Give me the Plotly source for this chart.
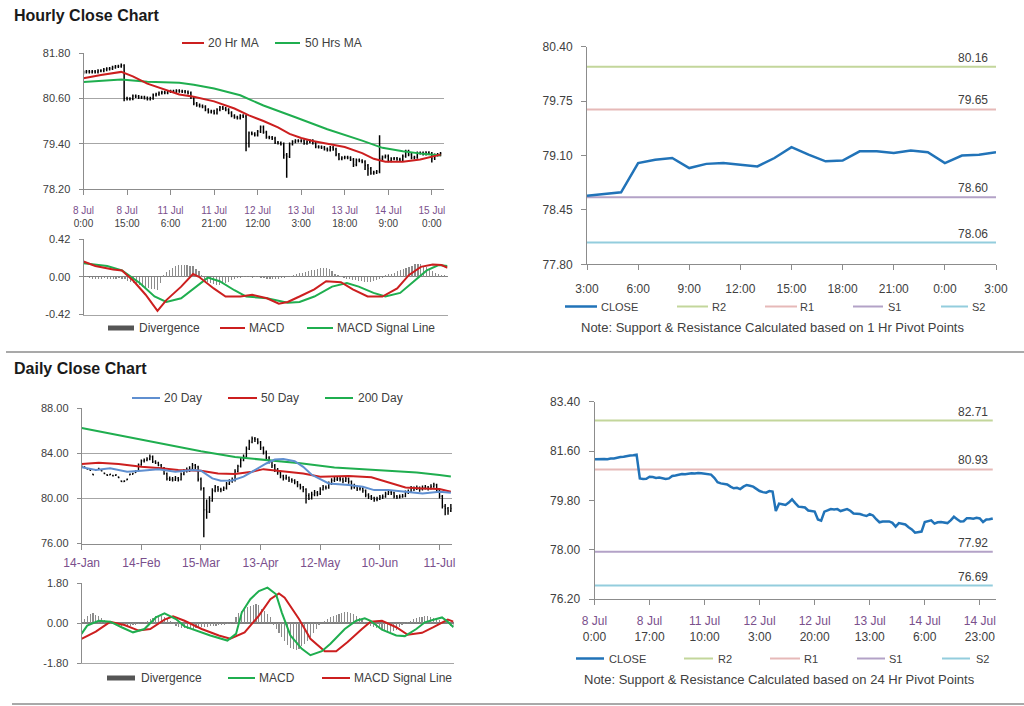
import plotly.graph_objects as go

W, H = 1024, 706

# ---------------------------------------------------------------- data
# Hourly series (8 Jul 0:00 .. 15 Jul 3:00, weekend removed)
hour_tick_idx = [0, 15, 30, 45, 60, 75, 90, 105, 120]
hour_tick_dates = ["8 Jul", "8 Jul", "11 Jul", "11 Jul", "12 Jul", "13 Jul", "13 Jul", "14 Jul", "15 Jul"]
hour_tick_times = ["0:00", "15:00", "6:00", "21:00", "12:00", "3:00", "18:00", "9:00", "0:00"]

hourly_open = [
    81.28, 81.30, 81.31, 81.30, 81.31, 81.30, 81.33, 81.33, 81.36, 81.38,
    81.39, 81.42, 81.44, 81.45, 81.47, 80.60, 80.58, 80.59, 80.66, 80.65,
    80.62, 80.63, 80.61, 80.58, 80.60, 80.69, 80.71, 80.74, 80.76, 80.75,
    80.78, 80.79, 80.78, 80.80, 80.79, 80.78, 80.77, 80.74, 80.62, 80.46,
    80.42, 80.40, 80.38, 80.30, 80.24, 80.26, 80.21, 80.30, 80.36, 80.33,
    80.30, 80.22, 80.14, 80.10, 80.08, 80.14, 80.12, 79.41, 79.68, 79.66,
    79.63, 79.72, 79.84, 79.70, 79.57, 79.56, 79.54, 79.43, 79.42, 79.39,
    79.10, 79.06, 79.39, 79.45, 79.48, 79.47, 79.48, 79.41, 79.45, 79.48,
    79.42, 79.32, 79.31, 79.30, 79.26, 79.23, 79.30, 79.25, 79.11, 79.00,
    79.03, 79.04, 79.03, 78.98, 78.84, 78.97, 78.95, 78.92, 78.82, 78.74,
    78.62, 78.64, 78.66, 79.01, 79.05, 79.07, 78.95, 79.00, 79.01, 78.99,
    78.97, 79.07, 79.20, 79.11, 79.03, 79.04, 79.15, 79.15, 79.13, 79.16,
    79.14, 79.01, 79.10, 79.11]
hourly_high = [
    81.34, 81.35, 81.35, 81.35, 81.35, 81.37, 81.37, 81.40, 81.42, 81.43,
    81.46, 81.48, 81.49, 81.52, 81.50, 80.64, 80.63, 80.70, 80.70, 80.69,
    80.67, 80.67, 80.65, 80.64, 80.73, 80.75, 80.78, 80.80, 80.80, 80.82,
    80.83, 80.83, 80.84, 80.84, 80.83, 80.82, 80.81, 80.78, 80.66, 80.50,
    80.46, 80.44, 80.42, 80.34, 80.30, 80.30, 80.34, 80.40, 80.40, 80.37,
    80.34, 80.26, 80.18, 80.14, 80.18, 80.18, 80.16, 79.72, 79.72, 79.70,
    79.76, 79.88, 79.88, 79.74, 79.61, 79.60, 79.58, 79.47, 79.46, 79.43,
    79.15, 79.43, 79.49, 79.52, 79.52, 79.52, 79.52, 79.49, 79.52, 79.52,
    79.46, 79.36, 79.35, 79.34, 79.30, 79.34, 79.34, 79.29, 79.15, 79.07,
    79.08, 79.08, 79.07, 79.02, 79.01, 79.01, 78.99, 78.96, 78.86, 78.78,
    78.68, 78.70, 79.62, 79.09, 79.11, 79.11, 79.04, 79.05, 79.05, 79.03,
    79.11, 79.24, 79.24, 79.15, 79.08, 79.19, 79.19, 79.19, 79.20, 79.20,
    79.18, 79.14, 79.15, 79.18]
hourly_low = [
    81.24, 81.26, 81.26, 81.26, 81.26, 81.26, 81.29, 81.29, 81.32, 81.34,
    81.35, 81.38, 81.40, 81.41, 80.52, 80.54, 80.54, 80.55, 80.61, 80.58,
    80.58, 80.57, 80.54, 80.54, 80.56, 80.65, 80.67, 80.70, 80.71, 80.71,
    80.74, 80.74, 80.74, 80.75, 80.74, 80.73, 80.70, 80.58, 80.42, 80.38,
    80.36, 80.34, 80.26, 80.20, 80.20, 80.17, 80.17, 80.26, 80.29, 80.26,
    80.18, 80.10, 80.06, 80.04, 80.04, 80.08, 79.20, 79.30, 79.62, 79.59,
    79.59, 79.68, 79.66, 79.53, 79.52, 79.50, 79.39, 79.38, 79.35, 79.00,
    78.50, 79.02, 79.35, 79.41, 79.43, 79.43, 79.37, 79.37, 79.41, 79.38,
    79.28, 79.27, 79.26, 79.22, 79.19, 79.19, 79.21, 79.07, 78.96, 78.96,
    78.99, 78.99, 78.94, 78.78, 78.80, 78.91, 78.88, 78.70, 78.55, 78.58,
    78.58, 78.60, 78.62, 78.97, 79.01, 78.91, 78.91, 78.96, 78.95, 78.93,
    78.93, 79.03, 79.07, 78.99, 78.99, 79.00, 79.11, 79.09, 79.09, 79.10,
    78.90, 78.97, 79.06, 79.07]
hourly_close = [
    81.30, 81.31, 81.30, 81.31, 81.30, 81.33, 81.33, 81.36, 81.38, 81.39,
    81.42, 81.44, 81.45, 81.47, 80.60, 80.58, 80.59, 80.66, 80.65, 80.62,
    80.63, 80.61, 80.58, 80.60, 80.69, 80.71, 80.74, 80.76, 80.75, 80.78,
    80.79, 80.78, 80.80, 80.79, 80.78, 80.77, 80.74, 80.62, 80.46, 80.42,
    80.40, 80.38, 80.30, 80.24, 80.26, 80.21, 80.30, 80.36, 80.33, 80.30,
    80.22, 80.14, 80.10, 80.08, 80.14, 80.12, 79.41, 79.68, 79.66, 79.63,
    79.72, 79.84, 79.70, 79.57, 79.56, 79.54, 79.43, 79.42, 79.39, 79.10,
    79.06, 79.39, 79.45, 79.48, 79.47, 79.48, 79.41, 79.45, 79.48, 79.42,
    79.32, 79.31, 79.30, 79.26, 79.23, 79.30, 79.25, 79.11, 79.00, 79.03,
    79.04, 79.03, 78.98, 78.84, 78.97, 78.95, 78.92, 78.82, 78.74, 78.62,
    78.64, 78.66, 79.01, 79.05, 79.07, 78.95, 79.00, 79.01, 78.99, 78.97,
    79.07, 79.20, 79.11, 79.03, 79.04, 79.15, 79.15, 79.13, 79.16, 79.14,
    79.01, 79.10, 79.11, 79.14]

ma20h_x = [0, 6, 13, 17, 22, 28, 33, 38, 45, 52, 57, 62, 67, 71, 75, 79, 85, 90, 96, 100, 104, 110, 116, 121, 123]
ma20h_y = [81.13, 81.22, 81.30, 81.18, 80.99, 80.83, 80.70, 80.64, 80.52, 80.33, 80.15, 80.00, 79.83, 79.66,
           79.55, 79.47, 79.38, 79.31, 79.15, 79.00, 78.92, 78.92, 78.98, 79.07, 79.11]
ma50h_x = [0, 7, 13, 22, 33, 38, 45, 54, 62, 73, 84, 96, 103, 110, 117, 123]
ma50h_y = [81.03, 81.07, 81.10, 81.04, 81.01, 80.96, 80.86, 80.68, 80.41, 80.10, 79.78, 79.48, 79.29, 79.20,
           79.13, 79.09]

hmacd_x = [0, 4, 10, 13, 17, 21, 25, 28, 33, 37, 39, 44, 48, 53, 57, 62, 66, 69, 73, 78, 82, 87, 91, 96,
           101, 106, 110, 114, 118, 121, 123]
hmacd_y = [0.17, 0.12, 0.08, 0.07, -0.05, -0.20, -0.38, -0.26, -0.11, 0.03, 0.00, -0.13, -0.22, -0.22,
           -0.20, -0.24, -0.30, -0.28, -0.22, -0.14, -0.05, -0.06, -0.14, -0.22, -0.22, -0.13, 0.02, 0.11,
           0.135, 0.13, 0.10]
hsig_x = [0, 8, 13, 19, 24, 28, 33, 38, 42, 46, 51, 55, 62, 69, 73, 78, 84, 89, 93, 98, 102, 107, 111, 116,
          120, 123]
hsig_y = [0.15, 0.12, 0.07, -0.07, -0.22, -0.28, -0.24, -0.11, -0.01, -0.05, -0.15, -0.22, -0.24, -0.29,
          -0.28, -0.22, -0.11, -0.07, -0.11, -0.18, -0.22, -0.18, -0.07, 0.07, 0.13, 0.12]
hourly_div = [
    0.02, 0.01, -0.01, -0.02, -0.02, -0.025, -0.02, -0.015, -0.02, -0.025,
    -0.02, -0.02, -0.015, -0.02, -0.03, -0.045, -0.06, -0.07, -0.085, -0.095,
    -0.11, -0.12, -0.13, -0.135, -0.14, -0.146, -0.07, 0.02, 0.055, 0.08,
    0.10, 0.115, 0.128, 0.132, 0.135, 0.133, 0.125, 0.115, 0.09, 0.06,
    0.02, -0.02, -0.055, -0.07, -0.084, -0.09, -0.09, -0.085, -0.07, -0.055,
    -0.04, -0.026, -0.015, -0.01, 0.005, 0.01, 0.005, -0.01, 0.01, 0.005,
    -0.01, -0.015, -0.02, -0.02, -0.025, -0.02, -0.02, -0.015, -0.01, 0.0,
    0.01, 0.02, 0.03, 0.04, 0.047, 0.055, 0.065, 0.073, 0.08, 0.09,
    0.10, 0.10, 0.095, 0.084, 0.06, 0.036, 0.02, 0.01, -0.01, -0.02,
    -0.026, -0.035, -0.04, -0.047, -0.05, -0.055, -0.062, -0.06, -0.045, -0.036,
    -0.02, -0.01, 0.015, 0.026, 0.035, 0.047, 0.06, 0.073, 0.085, 0.10,
    0.11, 0.125, 0.142, 0.146, 0.14, 0.125, 0.11, 0.08, 0.062, 0.04,
    0.03, 0.02, 0.015, 0.01]

# 1 Hr pivot panel: last 25 hourly closes (14 Jul 3:00 .. 15 Jul 3:00)
pivot1h_start = 99
pivot1h_ticks = [0, 3, 6, 9, 12, 15, 18, 21, 24]
pivot1h_labels = ["3:00", "6:00", "9:00", "12:00", "15:00", "18:00", "21:00", "0:00", "3:00"]
pivot1h_levels = {"R2": 80.16, "R1": 79.65, "S1": 78.60, "S2": 78.06}

# 24 Hr pivot panel ticks
pivot24_ticks = [0, 17, 34, 51, 68, 85, 102, 119]
pivot24_dates = ["8 Jul", "8 Jul", "11 Jul", "12 Jul", "12 Jul", "13 Jul", "14 Jul", "14 Jul"]
pivot24_times = ["0:00", "17:00", "10:00", "3:00", "20:00", "13:00", "6:00", "23:00"]
pivot24_levels = {"R2": 82.71, "R1": 80.93, "S1": 77.92, "S2": 76.69}

# Daily series (14 Jan .. 15 Jul, weekdays)
day_tick_idx = [0, 21, 42, 63, 84, 105, 126]
day_tick_labels = ["14-Jan", "14-Feb", "15-Mar", "13-Apr", "12-May", "10-Jun", "11-Jul"]

daily_open = [
    82.80, 82.80, 82.65, 82.55, 82.15, 82.50, 82.60, 82.50, 82.25, 82.10,
    82.10, 82.05, 82.05, 81.90, 81.55, 81.50, 81.65, 82.10, 82.15, 82.30,
    82.45, 83.00, 83.35, 83.40, 83.50, 83.70, 83.25, 83.15, 82.95, 82.70,
    82.20, 81.75, 81.70, 81.65, 81.80, 81.65, 82.15, 82.40, 82.50, 82.60,
    82.95, 82.80, 81.70, 80.90, 79.00, 78.80, 79.80, 80.70, 81.00, 80.80,
    80.75, 80.90, 81.30, 81.55, 81.60, 82.40, 82.85, 83.40, 83.70, 84.40,
    85.00, 85.30, 85.25, 85.00, 84.50, 84.10, 83.60, 83.30, 82.90, 82.55,
    82.30, 82.00, 81.80, 81.85, 81.65, 81.60, 81.45, 81.20, 81.00, 80.80,
    80.25, 80.00, 80.35, 80.50, 80.40, 80.80, 81.00, 80.95, 81.30, 81.60,
    81.70, 81.75, 81.70, 81.55, 81.75, 81.50, 81.00, 81.05, 80.85, 80.90,
    80.70, 80.30, 80.15, 80.05, 79.90, 79.95, 80.10, 80.15, 80.40, 80.55,
    80.50, 80.20, 80.10, 80.15, 80.20, 80.55, 80.60, 80.90, 80.85, 80.95,
    80.80, 80.95, 81.00, 80.90, 81.05, 81.20, 80.70, 80.20, 79.30, 79.10,
    78.90]
daily_high = [
    82.92, 82.85, 82.70, 82.60, 82.20, 82.62, 82.72, 82.55, 82.30, 82.15,
    82.20, 82.10, 82.15, 81.95, 81.60, 81.62, 81.76, 82.22, 82.28, 82.50,
    83.10, 83.45, 83.55, 83.65, 83.90, 83.80, 83.40, 83.25, 83.05, 82.80,
    82.30, 81.95, 81.90, 82.00, 81.90, 82.30, 82.60, 82.75, 82.85, 83.15,
    83.05, 82.90, 81.85, 81.00, 79.90, 80.20, 80.90, 81.20, 81.10, 80.95,
    81.05, 81.45, 81.70, 81.85, 82.60, 83.00, 83.60, 83.90, 84.60, 85.20,
    85.50, 85.45, 85.35, 85.10, 84.60, 84.25, 83.75, 83.40, 83.05, 82.70,
    82.45, 82.10, 82.10, 81.95, 81.80, 81.70, 81.55, 81.30, 81.10, 80.90,
    80.45, 80.60, 80.75, 80.65, 81.00, 81.20, 81.15, 81.50, 81.80, 81.90,
    81.95, 81.90, 81.85, 82.00, 81.85, 81.60, 81.30, 81.15, 81.10, 81.00,
    80.80, 80.45, 80.30, 80.15, 80.15, 80.30, 80.35, 80.60, 80.75, 80.65,
    80.60, 80.30, 80.35, 80.40, 80.70, 80.80, 81.10, 81.05, 81.15, 81.05,
    81.15, 81.20, 81.10, 81.25, 81.40, 81.30, 80.80, 80.30, 79.50, 79.25,
    79.50]
daily_low = [
    82.76, 82.70, 82.55, 82.45, 82.05, 82.48, 82.58, 82.40, 82.15, 82.00,
    82.05, 81.95, 82.00, 81.80, 81.45, 81.46, 81.62, 82.06, 82.12, 82.25,
    82.40, 82.90, 83.20, 83.30, 83.40, 83.15, 83.05, 82.85, 82.60, 82.10,
    81.60, 81.55, 81.50, 81.55, 81.50, 81.60, 82.05, 82.30, 82.35, 82.50,
    82.60, 81.50, 80.70, 76.55, 78.20, 78.70, 79.70, 80.55, 80.60, 80.55,
    80.65, 80.80, 81.20, 81.40, 81.50, 82.30, 82.75, 83.30, 83.60, 84.30,
    84.90, 85.00, 84.80, 84.30, 83.90, 83.45, 83.10, 82.70, 82.35, 82.10,
    81.80, 81.60, 81.65, 81.45, 81.40, 81.25, 81.00, 80.80, 80.55, 79.55,
    79.85, 79.90, 80.20, 80.20, 80.30, 80.70, 80.80, 80.85, 81.20, 81.45,
    81.55, 81.50, 81.35, 81.45, 81.30, 80.80, 80.85, 80.65, 80.70, 80.50,
    80.10, 79.95, 79.85, 79.70, 79.75, 79.85, 79.95, 80.05, 80.30, 80.30,
    80.00, 79.95, 80.00, 80.05, 80.10, 80.40, 80.50, 80.65, 80.75, 80.60,
    80.70, 80.80, 80.70, 80.80, 80.95, 80.55, 80.00, 79.10, 78.50, 78.55,
    78.80]
daily_close = [
    82.85, 82.75, 82.60, 82.50, 82.10, 82.55, 82.65, 82.45, 82.20, 82.05,
    82.15, 82.00, 82.10, 81.85, 81.50, 81.55, 81.70, 82.15, 82.20, 82.45,
    83.00, 83.35, 83.40, 83.50, 83.70, 83.25, 83.15, 82.95, 82.70, 82.20,
    81.75, 81.70, 81.65, 81.80, 81.65, 82.15, 82.40, 82.50, 82.60, 82.95,
    82.80, 81.70, 80.90, 79.00, 78.80, 79.80, 80.70, 81.00, 80.80, 80.75,
    80.90, 81.30, 81.55, 81.60, 82.40, 82.85, 83.40, 83.70, 84.40, 85.00,
    85.30, 85.25, 85.00, 84.50, 84.10, 83.60, 83.30, 82.90, 82.55, 82.30,
    82.00, 81.80, 81.85, 81.65, 81.60, 81.45, 81.20, 81.00, 80.80, 80.25,
    80.00, 80.35, 80.50, 80.40, 80.80, 81.00, 80.95, 81.30, 81.60, 81.70,
    81.75, 81.70, 81.55, 81.75, 81.50, 81.00, 81.05, 80.85, 80.90, 80.70,
    80.30, 80.15, 80.05, 79.90, 79.95, 80.10, 80.15, 80.40, 80.55, 80.50,
    80.20, 80.10, 80.15, 80.20, 80.55, 80.60, 80.90, 80.85, 80.95, 80.80,
    80.95, 81.00, 80.90, 81.05, 81.20, 80.70, 80.20, 79.30, 79.10, 78.90,
    79.10]

d20_x = [0, 5, 10, 16, 21, 27, 33, 39, 42, 46, 49, 53, 57, 62, 65, 68, 71, 75, 78, 81, 87, 94, 99, 103,
         108, 114, 120, 126, 130]
d20_y = [82.76, 82.52, 82.67, 82.37, 82.46, 82.58, 82.37, 82.52, 82.46, 81.78, 81.57, 81.60, 81.93, 82.67,
         83.10, 83.45, 83.50, 83.30, 82.80, 82.10, 81.33, 81.19, 81.04, 80.74, 80.74, 80.59, 80.44, 80.59,
         80.50]
d50_x = [0, 6, 13, 21, 28, 34, 42, 48, 54, 60, 64, 70, 78, 84, 94, 102, 109, 114, 120, 126, 130]
d50_y = [83.05, 83.17, 83.05, 82.81, 82.67, 82.52, 82.46, 82.22, 82.16, 82.37, 82.60, 82.46, 82.22, 81.93,
         81.99, 81.87, 81.33, 80.98, 80.89, 80.83, 80.59]
d200_x = [0, 21, 42, 54, 63, 77, 89, 105, 118, 126, 130]
d200_y = [86.25, 85.19, 84.18, 83.67, 83.45, 83.12, 82.75, 82.50, 82.30, 82.07, 81.95]

dmacd_x = [0, 2, 6, 10, 14, 18, 22, 26, 29, 33, 36, 41, 45, 51, 54, 56, 59, 62, 65, 68, 70, 73, 77, 80,
           84, 87, 92, 96, 99, 101, 105, 110, 113, 117, 120, 123, 126, 128, 130]
dmacd_y = [-0.49, -0.12, 0.10, 0.06, -0.19, -0.42, -0.27, 0.25, 0.43, 0.18, -0.15, -0.39, -0.56, -0.79,
           -0.49, 0.47, 1.07, 1.44, 1.59, 1.29, 0.47, -0.56, -1.16, -1.45, -1.27, -0.93, -0.27, 0.10,
           0.21, 0.10, -0.30, -0.56, -0.59, -0.27, 0.03, 0.15, 0.25, 0.06, -0.19]
dsig_x = [0, 5, 10, 15, 20, 24, 29, 32, 36, 42, 48, 52, 57, 62, 66, 69, 71, 76, 80, 85, 89, 93, 98, 101,
          105, 110, 114, 119, 123, 128, 130]
dsig_y = [-0.71, -0.39, 0.05, -0.09, -0.34, -0.27, 0.15, 0.30, 0.10, -0.27, -0.56, -0.71, -0.42, 0.33,
          1.07, 1.33, 1.14, 0.18, -0.71, -1.27, -1.27, -0.86, -0.27, 0.06, 0.10, -0.19, -0.53, -0.44,
          -0.19, 0.15, 0.06]
daily_div = [
    0.10, 0.20, 0.30, 0.40, 0.44, 0.38, 0.30, 0.22, 0.15, 0.08,
    0.06, 0.02, -0.05, -0.09, -0.12, -0.15, -0.14, -0.12, -0.10, -0.08,
    -0.05, -0.02, 0.05, 0.10, 0.18, 0.24, 0.30, 0.33, 0.33, 0.25,
    0.18, 0.08, -0.05, -0.12, -0.18, -0.22, -0.24, -0.26, -0.27, -0.26,
    -0.24, -0.22, -0.20, -0.18, -0.16, -0.15, -0.13, -0.12, -0.10, -0.09,
    -0.07, -0.05, -0.03, 0.05, 0.25, 0.45, 0.55, 0.65, 0.72, 0.77,
    0.81, 0.84, 0.80, 0.65, 0.55, 0.40, 0.25, -0.10, -0.27, -0.45,
    -0.64, -0.82, -1.01, -1.12, -1.19, -1.20, -1.16, -1.05, -0.93, -0.80,
    -0.64, -0.45, -0.27, -0.09, 0.02, 0.10, 0.18, 0.25, 0.30, 0.36,
    0.40, 0.45, 0.50, 0.49, 0.47, 0.40, 0.30, 0.22, 0.15, 0.05,
    -0.08, -0.12, -0.20, -0.24, -0.27, -0.33, -0.37, -0.40, -0.41, -0.38,
    -0.30, -0.19, -0.10, -0.03, 0.04, 0.10, 0.17, 0.22, 0.25, 0.28,
    0.30, 0.30, 0.27, 0.23, 0.18, 0.12, 0.06, 0.02, -0.05, -0.12,
    -0.20]

# ---------------------------------------------------------------- style
FONT = "Liberation Sans, Arial, sans-serif"
TXT = "#404040"
DATE_C = "#7a4f8c"
GRID = "#a6a6a6"
AXIS = "#8c8c8c"
RED = "#cc1f1f"
GREEN = "#1fae4f"
BLUE20 = "#5f8fd0"
CLOSE_C = "#2173b8"
DIV_C = "#8c8c8c"
PIV_C = {"R2": "#c3d69b", "R1": "#e6b9b8", "S1": "#b3a2c7", "S2": "#93cddd"}


def dom_x(a, b):
    return [a / W, b / W]


def dom_y(top, bottom):
    return [1 - bottom / H, 1 - top / H]


hour_idx = list(range(len(hourly_close)))
day_idx = list(range(len(daily_close)))
piv1_close = hourly_close[pivot1h_start:]
piv1_idx = list(range(len(piv1_close)))

fig = go.Figure()

# --- top-left: hourly bars + MAs
fig.add_trace(go.Ohlc(x=hour_idx, open=hourly_open, high=hourly_high, low=hourly_low, close=hourly_close,
                      increasing=dict(line=dict(color="black", width=1.5)),
                      decreasing=dict(line=dict(color="black", width=1.5)),
                      tickwidth=0.3, xaxis="x", yaxis="y", showlegend=False, hoverinfo="skip"))
fig.add_trace(go.Scatter(x=ma50h_x, y=ma50h_y, mode="lines", line=dict(color=GREEN, width=2),
                         xaxis="x", yaxis="y", showlegend=False))
fig.add_trace(go.Scatter(x=ma20h_x, y=ma20h_y, mode="lines", line=dict(color=RED, width=2),
                         xaxis="x", yaxis="y", showlegend=False))

# --- hourly MACD
fig.add_trace(go.Bar(x=hour_idx, y=hourly_div, width=0.4, marker=dict(color=DIV_C, line=dict(width=0)),
                     xaxis="x2", yaxis="y2", showlegend=False))
fig.add_trace(go.Scatter(x=hsig_x, y=hsig_y, mode="lines", line=dict(color=GREEN, width=2),
                         xaxis="x2", yaxis="y2", showlegend=False))
fig.add_trace(go.Scatter(x=hmacd_x, y=hmacd_y, mode="lines", line=dict(color=RED, width=2),
                         xaxis="x2", yaxis="y2", showlegend=False))

# --- top-right: 1 Hr pivots
for k in ["R2", "R1", "S1", "S2"]:
    fig.add_trace(go.Scatter(x=[piv1_idx[0], piv1_idx[-1]], y=[pivot1h_levels[k]] * 2, mode="lines",
                             line=dict(color=PIV_C[k], width=2), xaxis="x3", yaxis="y3", showlegend=False))
fig.add_trace(go.Scatter(x=piv1_idx, y=piv1_close, mode="lines", line=dict(color=CLOSE_C, width=2.5),
                         xaxis="x3", yaxis="y3", showlegend=False))

# --- bottom-left: daily bars + MAs
fig.add_trace(go.Ohlc(x=day_idx, open=daily_open, high=daily_high, low=daily_low, close=daily_close,
                      increasing=dict(line=dict(color="black", width=1.4)),
                      decreasing=dict(line=dict(color="black", width=1.4)),
                      tickwidth=0.3, xaxis="x4", yaxis="y4", showlegend=False, hoverinfo="skip"))
fig.add_trace(go.Scatter(x=d200_x, y=d200_y, mode="lines", line=dict(color=GREEN, width=2),
                         xaxis="x4", yaxis="y4", showlegend=False))
fig.add_trace(go.Scatter(x=d50_x, y=d50_y, mode="lines", line=dict(color=RED, width=2),
                         xaxis="x4", yaxis="y4", showlegend=False))
fig.add_trace(go.Scatter(x=d20_x, y=d20_y, mode="lines", line=dict(color=BLUE20, width=2),
                         xaxis="x4", yaxis="y4", showlegend=False))

# --- daily MACD
fig.add_trace(go.Bar(x=day_idx, y=daily_div, width=0.4, marker=dict(color=DIV_C, line=dict(width=0)),
                     xaxis="x5", yaxis="y5", showlegend=False))
fig.add_trace(go.Scatter(x=dsig_x, y=dsig_y, mode="lines", line=dict(color=RED, width=2),
                         xaxis="x5", yaxis="y5", showlegend=False))
fig.add_trace(go.Scatter(x=dmacd_x, y=dmacd_y, mode="lines", line=dict(color=GREEN, width=2),
                         xaxis="x5", yaxis="y5", showlegend=False))

# --- bottom-right: 24 Hr pivots
for k in ["R2", "R1", "S1", "S2"]:
    fig.add_trace(go.Scatter(x=[hour_idx[0], hour_idx[-1]], y=[pivot24_levels[k]] * 2, mode="lines",
                             line=dict(color=PIV_C[k], width=2), xaxis="x6", yaxis="y6", showlegend=False))
fig.add_trace(go.Scatter(x=hour_idx, y=hourly_close, mode="lines", line=dict(color=CLOSE_C, width=2.5),
                         xaxis="x6", yaxis="y6", showlegend=False))


def two_line(d, t):
    return f'<span style="color:{DATE_C}">{d}</span><br>{t}'


def base_axis(**kw):
    a = dict(showgrid=False, zeroline=False, showline=True, linecolor=AXIS, linewidth=1,
             tickfont=dict(size=11, color=TXT, family=FONT), fixedrange=True, tickmode="array",
             automargin=False)
    a.update(kw)
    return a


def yvals(vals):
    return dict(tickvals=vals, ticktext=[f"{v:.2f}" for v in vals])


lay = dict(
    width=W, height=H, autosize=False,
    margin=dict(l=0, r=0, t=0, b=0, pad=0, autoexpand=False),
    paper_bgcolor="white", plot_bgcolor="white",
    font=dict(family=FONT, color=TXT), showlegend=False, hovermode=False, bargap=0,
)

# top-left price
lay["xaxis"] = base_axis(domain=dom_x(83.5, 444.3), range=[0, 124.3], anchor="y",
                         tickvals=hour_tick_idx,
                         ticktext=[two_line(d, t) for d, t in zip(hour_tick_dates, hour_tick_times)],
                         ticks="outside", ticklen=5, tickcolor=AXIS, tickfont=dict(size=10, color=TXT, family=FONT),
                         ticklabelstandoff=7, rangeslider=dict(visible=False))
lay["yaxis"] = base_axis(domain=dom_y(53, 189), range=[78.2, 81.8], anchor="x",
                         showgrid=True, gridcolor=GRID, gridwidth=1.3, ticks="outside", ticklen=4,
                         tickcolor=AXIS, ticklabelstandoff=6, **yvals([78.2, 79.4, 80.6, 81.8]))
# hourly MACD
lay["xaxis2"] = base_axis(domain=dom_x(83.5, 447.5), range=[0, 123], anchor="y2", showticklabels=False,
                          tickvals=[], linecolor=GRID, linewidth=1.3)
lay["yaxis2"] = base_axis(domain=dom_y(239, 314.5), range=[-0.42, 0.42], anchor="x2",
                          showgrid=True, gridcolor=GRID, gridwidth=1.3, zeroline=True, zerolinecolor="#7f7f7f",
                          zerolinewidth=1.3, ticks="outside", ticklen=4, tickcolor=AXIS, ticklabelstandoff=6,
                          **yvals([-0.42, 0.0, 0.42]))
# top-right
lay["xaxis3"] = base_axis(domain=dom_x(587, 996), range=[0, 24], anchor="y3", tickvals=pivot1h_ticks,
                          ticktext=pivot1h_labels, ticks="outside", ticklen=5, tickcolor=AXIS,
                          tickfont=dict(size=12, color=TXT, family=FONT), ticklabelstandoff=8)
lay["yaxis3"] = base_axis(domain=dom_y(46.7, 264.3), range=[77.8, 80.4], anchor="x3", ticks="outside",
                          ticklen=5, tickcolor=AXIS, tickfont=dict(size=12, color=TXT, family=FONT),
                          ticklabelstandoff=6, **yvals([77.8, 78.45, 79.1, 79.75, 80.4]))
# daily price
lay["xaxis4"] = base_axis(domain=dom_x(81.7, 452), range=[0, 130.4], anchor="y4", tickvals=day_tick_idx,
                          ticktext=[f'<span style="color:{DATE_C}">{t}</span>' for t in day_tick_labels],
                          ticks="outside", ticklen=5, tickcolor=AXIS,
                          tickfont=dict(size=12, color=TXT, family=FONT), ticklabelstandoff=3,
                          rangeslider=dict(visible=False))
lay["yaxis4"] = base_axis(domain=dom_y(408.3, 543.5), range=[76, 88], anchor="x4", showgrid=True,
                          gridcolor=GRID, gridwidth=1.3, ticks="outside", ticklen=4, tickcolor=AXIS,
                          ticklabelstandoff=6, **yvals([76, 80, 84, 88]))
# daily MACD
lay["xaxis5"] = base_axis(domain=dom_x(81.5, 453.5), range=[0, 130], anchor="y5", showticklabels=False,
                          tickvals=[], linecolor=GRID, linewidth=1.3)
lay["yaxis5"] = base_axis(domain=dom_y(583, 663), range=[-1.8, 1.8], anchor="x5", showgrid=True,
                          gridcolor=GRID, gridwidth=1.3, zeroline=True, zerolinecolor="#7f7f7f",
                          zerolinewidth=1.3, ticks="outside", ticklen=4, tickcolor=AXIS, ticklabelstandoff=6,
                          **yvals([-1.8, 0.0, 1.8]))
# bottom-right
lay["xaxis6"] = base_axis(domain=dom_x(594.5, 996), range=[0, 124], anchor="y6", tickvals=pivot24_ticks,
                          ticktext=[two_line(d, t) for d, t in zip(pivot24_dates, pivot24_times)],
                          ticks="outside", ticklen=5, tickcolor=AXIS,
                          tickfont=dict(size=12, color=TXT, family=FONT), ticklabelstandoff=6)
lay["yaxis6"] = base_axis(domain=dom_y(401.7, 599), range=[76.2, 83.4], anchor="x6", ticks="outside",
                          ticklen=5, tickcolor=AXIS, tickfont=dict(size=12, color=TXT, family=FONT),
                          ticklabelstandoff=6, **yvals([76.2, 78.0, 79.8, 81.6, 83.4]))

shapes = []
annots = []


def hline_px(x0, x1, y, color, width):
    shapes.append(dict(type="line", xref="paper", yref="paper", x0=x0 / W, x1=x1 / W,
                       y0=1 - y / H, y1=1 - y / H, line=dict(color=color, width=width)))


def text_px(x, y, text, size=12, anchor="left", bold=False, color=TXT):
    annots.append(dict(xref="paper", yref="paper", x=x / W, y=1 - y / H, text=f"<b>{text}</b>" if bold else text,
                       showarrow=False, xanchor=anchor, yanchor="middle",
                       font=dict(size=size, color=color, family=FONT)))


# titles
text_px(12, 16, "Hourly Close Chart", size=16, bold=True, color="#1a1a1a")
text_px(12, 369, "Daily Close Chart", size=16, bold=True, color="#1a1a1a")

# separators
hline_px(6, 1024, 352, "#8c8c8c", 1.5)
hline_px(12, 1024, 704, "#8c8c8c", 1.5)

# legends (left)
hline_px(182, 204, 43, RED, 2); text_px(206, 43, "20 Hr MA")
hline_px(275, 300, 43, GREEN, 2); text_px(303, 43, "50 Hrs MA")

hline_px(108, 134, 328, "#555555", 5); text_px(137, 328, "Divergence")
hline_px(220, 245, 328, RED, 2); text_px(247, 328, "MACD")
hline_px(307, 333, 328, GREEN, 2); text_px(335, 328, "MACD Signal Line")

hline_px(132, 160, 398, BLUE20, 2); text_px(162, 398, "20 Day")
hline_px(228, 257, 398, RED, 2); text_px(259, 398, "50 Day")
hline_px(325, 353, 398, GREEN, 2); text_px(356, 398, "200 Day")

hline_px(107, 135, 678, "#555555", 5); text_px(139, 678, "Divergence")
hline_px(228, 255, 678, GREEN, 2); text_px(257, 678, "MACD")
hline_px(322, 350, 678, RED, 2); text_px(352, 678, "MACD Signal Line")

# legends (right)
for (lx0, lx1, tx, name, col) in [(565, 597, 599, "CLOSE", CLOSE_C), (677, 708, 710, "R2", PIV_C["R2"]),
                                  (765, 797, 798, "R1", PIV_C["R1"]), (853, 883, 886, "S1", PIV_C["S1"]),
                                  (941, 968, 970, "S2", PIV_C["S2"])]:
    hline_px(lx0, lx1, 306.5, col, 2 if name != "CLOSE" else 2.5)
    text_px(tx, 306.5, name, size=11)
text_px(772, 327.5, "Note: Support &amp; Resistance Calculated based on 1 Hr Pivot Points", size=13, anchor="center")

for (lx0, lx1, tx, name, col) in [(576, 604, 607, "CLOSE", CLOSE_C), (684, 713, 716, "R2", PIV_C["R2"]),
                                  (770, 800, 802, "R1", PIV_C["R1"]), (857, 885, 887, "S1", PIV_C["S1"]),
                                  (942, 970, 974, "S2", PIV_C["S2"])]:
    hline_px(lx0, lx1, 658.5, col, 2 if name != "CLOSE" else 2.5)
    text_px(tx, 658.5, name, size=11)
text_px(779, 679, "Note: Support &amp; Resistance Calculated based on 24 Hr Pivot Points", size=13, anchor="center")

# pivot value labels
for k, v in pivot1h_levels.items():
    annots.append(dict(xref="paper", yref="y3", x=973 / W, y=v, yshift=9, text=f"{v:.2f}", showarrow=False,
                       xanchor="center", yanchor="middle", font=dict(size=12, color=TXT, family=FONT)))
for k, v in pivot24_levels.items():
    annots.append(dict(xref="paper", yref="y6", x=973 / W, y=v, yshift=9, text=f"{v:.2f}", showarrow=False,
                       xanchor="center", yanchor="middle", font=dict(size=12, color=TXT, family=FONT)))

lay["shapes"] = shapes
lay["annotations"] = annots
fig.update_layout(**lay)

fig.write_html("out.html", config={"displayModeBar": False, "staticPlot": True})
